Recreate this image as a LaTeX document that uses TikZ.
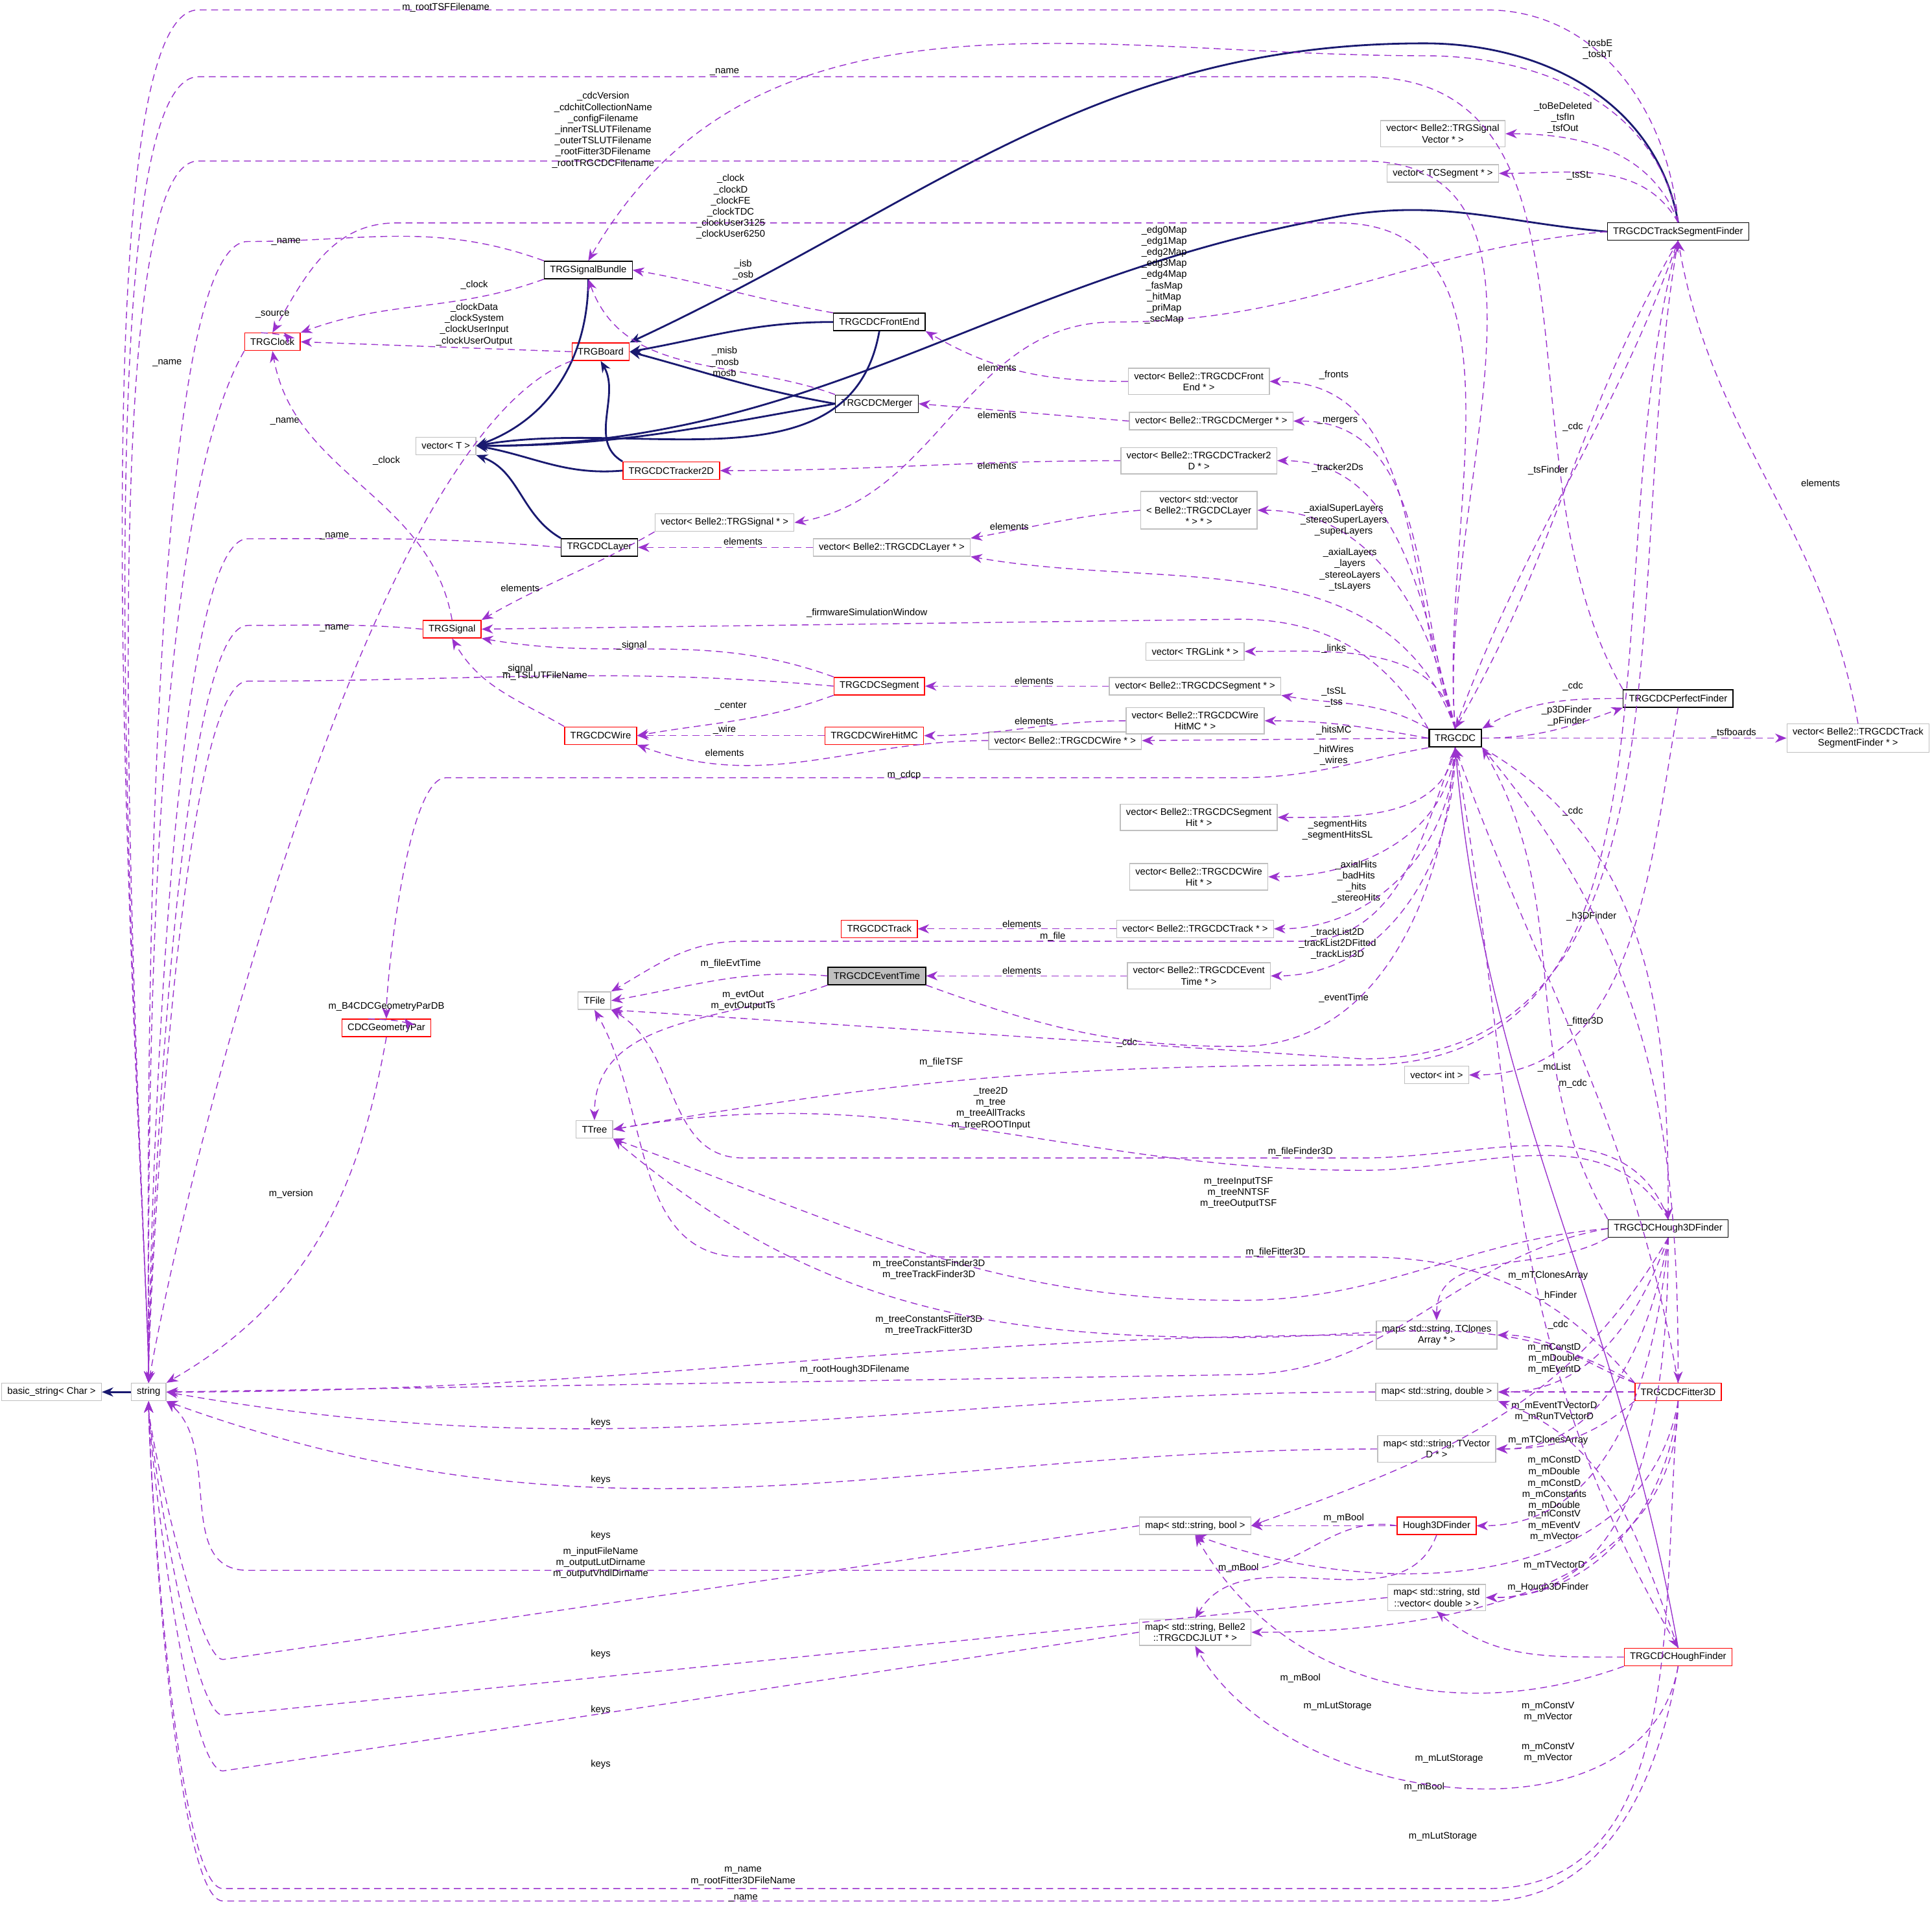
\documentclass[tikz,border=0pt]{standalone}
\usepackage{fontspec}
\setmainfont{Liberation Sans}
\usetikzlibrary{arrows.meta}
\definecolor{dep}{HTML}{9A32CD}
\definecolor{inhc}{HTML}{191970}
\newcommand\Lb[2]{\node[lab] at #1 {#2};}
\begin{document}
\begin{tikzpicture}[x=0.0191cm,y=-0.0191cm,
 every node/.style={font=\fontsize{4.2}{4.9}\selectfont},
 bx/.style={draw=black!25,fill=white,inner xsep=2.5pt,inner ysep=1.8pt,minimum height=0.27cm,align=center},
 rb/.style={draw=red,fill=white,inner xsep=2.5pt,inner ysep=1.8pt,minimum height=0.27cm},
 kb/.style={draw=black,fill=white,inner xsep=2.5pt,inner ysep=1.8pt,minimum height=0.27cm},
 lab/.style={align=center,inner sep=0pt},
 ts/.style={out=180,in=90,looseness=0.25},
 tsb/.style={out=180,in=-90,looseness=0.25},
 dep/.style={draw=dep,dashed,dash pattern=on 3pt off 2pt,-{Stealth[length=5pt,width=4pt]}},
 inh/.style={draw=inhc,thick,-{Stealth[length=5pt,width=4pt]}}]
\useasboundingbox (0,0) rectangle (1560,1539);
% nodes
\node[bx,anchor=west] (bs) at (1,1124) {basic\_string< Char >};
\node[bx] (str) at (120,1124) {string};
\node[rb] (clk) at (220,276) {TRGClock};
\node[kb] (sb) at (475,218) {TRGSignalBundle};
\node[rb] (brd) at (485,284) {TRGBoard};
\node[bx] (vt) at (360,360) {vector< T >};
\node[kb] (fe) at (710,260) {TRGCDCFrontEnd};
\node[kb] (mg) at (708,326) {TRGCDCMerger};
\node[rb] (t2d) at (542,380) {TRGCDCTracker2D};
\node[kb] (lay) at (484,442) {TRGCDCLayer};
\node[bx] (vsig) at (585,422) {vector< Belle2::TRGSignal * >};
\node[bx] (vlay) at (720,442) {vector< Belle2::TRGCDCLayer * >};
\node[rb] (sig) at (365,508) {TRGSignal};
\node[rb] (seg) at (710,554) {TRGCDCSegment};
\node[rb] (wire) at (485,594) {TRGCDCWire};
\node[rb] (whmc) at (706,594) {TRGCDCWireHitMC};
\node[bx] (vwire) at (860,598) {vector< Belle2::TRGCDCWire * >};
\node[bx] (vfe) at (968,308) {vector< Belle2::TRGCDCFront\\End * >};
\node[bx] (vmg) at (978,340) {vector< Belle2::TRGCDCMerger * >};
\node[bx] (vt2d) at (968,372) {vector< Belle2::TRGCDCTracker2\\D * >};
\node[bx] (vvl) at (968,412) {vector< std::vector\\< Belle2::TRGCDCLayer\\ * > * >};
\node[bx] (vlink) at (965,526) {vector< TRGLink * >};
\node[bx] (vseg) at (965,554) {vector< Belle2::TRGCDCSegment * >};
\node[bx] (vwhmc) at (965,582) {vector< Belle2::TRGCDCWire\\HitMC * >};
\node[kb,thick] (cdc) at (1175,596) {TRGCDC};
\node[bx] (vsv) at (1165,108) {vector< Belle2::TRGSignal\\Vector * >};
\node[bx] (vtcs) at (1165,140) {vector< TCSegment * >};
\node[kb] (tsf) at (1355,187) {TRGCDCTrackSegmentFinder};
\node[kb] (pf) at (1355,564) {TRGCDCPerfectFinder};
\node[bx,anchor=east] (vtsf) at (1558,596) {vector< Belle2::TRGCDCTrack\\SegmentFinder * >};
\node[bx] (vsh) at (968,660) {vector< Belle2::TRGCDCSegment\\Hit * >};
\node[bx] (vwh) at (968,708) {vector< Belle2::TRGCDCWire\\Hit * >};
\node[rb] (trk) at (710,750) {TRGCDCTrack};
\node[bx] (vtrk) at (965,750) {vector< Belle2::TRGCDCTrack * >};
\node[kb,fill=black!25] (et) at (708,788) {TRGCDCEventTime};
\node[bx] (vet) at (968,788) {vector< Belle2::TRGCDCEvent\\Time * >};
\node[bx] (tfile) at (480,808) {TFile};
\node[rb] (geo) at (312,830) {CDCGeometryPar};
\node[bx] (vint) at (1160,868) {vector< int >};
\node[bx] (ttree) at (480,912) {TTree};
\node[kb] (h3d) at (1347,992) {TRGCDCHough3DFinder};
\node[bx] (mtc) at (1160,1078) {map< std::string, TClones\\Array * >};
\node[bx] (mdbl) at (1160,1124) {map< std::string, double >};
\node[rb] (fit) at (1355,1124) {TRGCDCFitter3D};
\node[bx] (mtv) at (1160,1170) {map< std::string, TVector\\D * >};
\node[rb] (h3f) at (1160,1232) {Hough3DFinder};
\node[bx] (mbool) at (965,1232) {map< std::string, bool >};
\node[bx] (mvec) at (1160,1290) {map< std::string, std\\::vector< double > >};
\node[bx] (mlut) at (965,1318) {map< std::string, Belle2\\::TRGCDCJLUT * >};
\node[rb] (hf) at (1355,1338) {TRGCDCHoughFinder};
% inheritance
\draw[inh] (str) -- (bs);
\draw[inh] (sb.south) to[out=-90,in=20] (vt.east);
\draw[inh] (fe.south) to[out=-100,in=10] (vt.east);
\draw[inh] (fe.west) to[out=180,in=10] (brd.east);
\draw[inh] (mg.west) to[out=170,in=-15] (brd.east);
\draw[inh] (mg.west) to[out=190,in=0] (vt.east);
\draw[inh] (t2d.north west) to[out=150,in=-60] (brd.south);
\draw[inh] (t2d.west) to[out=185,in=-10] (vt.east);
\draw[inh] (lay.north west) to[out=150,in=-20] (vt.south east);
\draw[inh] (tsf.north) to[out=100,in=0] (1150,35) to[out=180,in=25] (brd.north east);
\draw[inh] (tsf.west) to[out=175,in=10] (1080,175) to[out=190,in=0] (vt.east);
% dependencies
\draw[dep] (tsf.north) to[out=95,in=0] (1200,8) -- (160,8) to[ts] (str.north); \Lb{(360,6)}{m\_rootTSFFilename}
\draw[dep] (tsf.north) to[out=100,in=0] (1150,45) to[out=180,in=60] (sb.north); \Lb{(1290,40)}{\_tosbE\\\_tosbT}
\draw[dep] (pf.north west) to[out=120,in=0] (1100,62) -- (160,62) to[ts] (str.north); \Lb{(585,58)}{\_name}
\draw[dep] (cdc.north) to[out=95,in=0] (1100,130) -- (160,130) to[ts] (str.north); \Lb{(487,105)}{\_cdcVersion\\\_cdchitCollectionName\\\_configFilename\\\_innerTSLUTFilename\\\_outerTSLUTFilename\\\_rootFitter3DFilename\\\_rootTRGCDCFilename}
\draw[dep] (cdc.north) to[out=95,in=0] (1080,180) -- (320,180) to[out=180,in=60] (clk.north); \Lb{(590,167)}{\_clock\\\_clockD\\\_clockFE\\\_clockTDC\\\_clockUser3125\\\_clockUser6250}
\draw[dep] (sb.north west) to[out=160,in=0] (200,195) to[ts] (str.north); \Lb{(231,195)}{\_name}
\draw[dep] (sb.south west) to[out=200,in=20] (clk.north east); \Lb{(383,230)}{\_clock}
\draw[dep] (brd.west) -- (clk.east); \Lb{(383,262)}{\_clockData\\\_clockSystem\\\_clockUserInput\\\_clockUserOutput}
\draw[dep] (brd.south west) to[out=200,in=80,looseness=0.5] (str.north); \Lb{(230,340)}{\_name}
\draw[dep] ([xshift=-5pt]clk.north) .. controls +(-0.35,0.4) and +(0.35,0.4) .. ([xshift=5pt]clk.north); \Lb{(220,254)}{\_source}
\draw[dep] (clk.south west) to[out=240,in=90,looseness=0.5] (str.north); \Lb{(135,293)}{\_name}
\draw[dep] (fe.north west) to[out=170,in=-10] (sb.east); \Lb{(600,218)}{\_isb\\\_osb}
\draw[dep] (mg.north west) to[out=160,in=-70] (sb.south); \Lb{(585,292)}{\_misb\\\_mosb\\mosb}
\draw[dep] (vfe.west) to[out=180,in=-30] (fe.south east); \Lb{(805,297)}{elements}
\draw[dep] (vmg.west) -- (mg.east); \Lb{(805,335)}{elements}
\draw[dep] (vt2d.west) to[out=180,in=0] (t2d.east); \Lb{(805,376)}{elements}
\draw[dep] (vvl.west) to[out=185,in=10] (vlay.north east); \Lb{(815,425)}{elements}
\draw[dep] (vlay.west) -- (lay.east); \Lb{(600,437)}{elements}
\draw[dep] (lay.west) to[out=175,in=0] (200,435) to[ts] (str.north); \Lb{(270,433)}{\_name}
\draw[dep] (tsf.west) to[out=185,in=0] (900,260) to[out=180,in=10] (vsig.east); \Lb{(940,222)}{\_edg0Map\\\_edg1Map\\\_edg2Map\\\_edg3Map\\\_edg4Map\\\_fasMap\\\_hitMap\\\_priMap\\\_secMap}
\draw[dep] (vsig.south west) to[out=210,in=30] (sig.north east); \Lb{(420,475)}{elements}
\draw[dep] (sig.north) to[out=100,in=-80] (clk.south); \Lb{(312,372)}{\_clock}
\draw[dep] (sig.west) to[out=175,in=0] (200,505) to[ts] (str.north); \Lb{(270,507)}{\_name}
\draw[dep] (cdc.north west) to[out=120,in=0] (1000,500) -- (sig.east); \Lb{(700,495)}{\_firmwareSimulationWindow}
\draw[dep] (seg.north west) to[out=160,in=-10] (sig.south east); \Lb{(510,521)}{\_signal}
\draw[dep] (seg.west) to[out=175,in=0] (200,550) to[ts] (str.north); \Lb{(440,546)}{m\_TSLUTFileName}
\draw[dep] (seg.south west) to[out=200,in=10] (wire.east); \Lb{(590,570)}{\_center}
\draw[dep] (wire.north west) to[out=150,in=-60] (sig.south); \Lb{(418,540)}{\_signal}
\draw[dep] (whmc.west) -- (wire.east); \Lb{(585,589)}{\_wire}
\draw[dep] (vwire.west) to[out=180,in=-20] (wire.south east); \Lb{(585,608)}{elements}
\draw[dep] (vseg.west) -- (seg.east); \Lb{(835,550)}{elements}
\draw[dep] (vwhmc.west) to[out=180,in=0] (whmc.east); \Lb{(835,582)}{elements}
\draw[dep] (cdc.north) to[out=110,in=0] (vfe.east); \Lb{(1077,303)}{\_fronts}
\draw[dep] (cdc.north) to[out=108,in=0] (vmg.east); \Lb{(1080,340)}{\_mergers}
\draw[dep] (cdc.north) to[out=105,in=0] (vt2d.east); \Lb{(1080,378)}{\_tracker2Ds}
\draw[dep] (cdc.north) to[out=102,in=0] (vvl.east); \Lb{(1085,420)}{\_axialSuperLayers\\\_stereoSuperLayers\\\_superLayers}
\draw[dep] (cdc.north) to[out=110,in=-10] (vlay.south east); \Lb{(1090,460)}{\_axialLayers\\\_layers\\\_stereoLayers\\\_tsLayers}
\draw[dep] (cdc.north) to[out=100,in=0] (vlink.east); \Lb{(1077,524)}{\_links}
\draw[dep] (cdc.north west) to[out=150,in=-10] (vseg.south east); \Lb{(1077,563)}{\_tsSL\\\_tss}
\draw[dep] (cdc.west) to[out=170,in=0] (vwhmc.east); \Lb{(1077,590)}{\_hitsMC}
\draw[dep] (cdc.west) -- (vwire.east); \Lb{(1077,610)}{\_hitWires\\\_wires}
\draw[dep] (cdc.south west) to[out=190,in=0] (1000,628) -- (360,628) to[out=180,in=90,looseness=0.4] (geo.north); \Lb{(730,626)}{m\_cdcp}
\draw[dep] ([xshift=-8pt]geo.north) .. controls +(-0.3,0.4) and +(0.3,0.4) .. ([xshift=8pt]geo.north); \Lb{(312,813)}{m\_B4CDCGeometryParDB}
\draw[dep] (geo.south) to[out=-100,in=30] (str.north east); \Lb{(235,964)}{m\_version}
\draw[dep] (cdc.south) to[out=-100,in=0] (vsh.east); \Lb{(1080,670)}{\_segmentHits\\\_segmentHitsSL}
\draw[dep] (cdc.south) to[out=-95,in=0] (vwh.east); \Lb{(1095,712)}{\_axialHits\\\_badHits\\\_hits\\\_stereoHits}
\draw[dep] (cdc.south) to[out=-110,in=0] (1050,760) -- (600,760) to[out=180,in=30] (tfile.north east); \Lb{(850,756)}{m\_file}
\draw[dep] (cdc.south) to[out=-92,in=0] (vtrk.east); \Lb{(1080,762)}{\_trackList2D\\\_trackList2DFitted\\\_trackList3D}
\draw[dep] (vtrk.west) -- (trk.east); \Lb{(825,746)}{elements}
\draw[dep] (cdc.south) to[out=-90,in=0] (vet.east); \Lb{(1085,806)}{\_eventTime}
\draw[dep] (vet.west) -- (et.east); \Lb{(825,784)}{elements}
\draw[dep] (et.west) to[out=175,in=10] (tfile.east); \Lb{(590,778)}{m\_fileEvtTime}
\draw[dep] (et.south west) to[out=200,in=90] (ttree.north); \Lb{(600,808)}{m\_evtOut\\m\_evtOutputTs}
\draw[dep] (et.south east) to[out=-20,in=180] (1000,845) to[out=0,in=-95] (cdc.south); \Lb{(910,842)}{\_cdc}
\draw[dep] (tsf.south) to[out=-100,in=0] (1100,855) -- (tfile.south east); \Lb{(760,858)}{m\_fileTSF}
\draw[dep] (tsf.south) to[out=-105,in=0] (1100,860) to[out=180,in=10] (ttree.east); \Lb{(800,895)}{\_tree2D\\m\_tree\\m\_treeAllTracks\\m\_treeROOTInput}
\draw[dep] (tsf.south) to[out=-120,in=60] (cdc.north); \Lb{(1270,345)}{\_cdc}
\draw[dep] (cdc.north) to[out=70,in=-110] (tsf.south); \Lb{(1250,380)}{\_tsFinder}
\draw[dep] (tsf.north) to[out=110,in=0] (vsv.east); \Lb{(1262,95)}{\_toBeDeleted\\\_tsfIn\\\_tsfOut}
\draw[dep] (tsf.north) to[out=120,in=0] (vtcs.east); \Lb{(1275,142)}{\_tsSL}
\draw[dep] (vtsf.north) to[out=100,in=-80] (tsf.south); \Lb{(1470,390)}{elements}
\draw[dep] (cdc.east) -- (vtsf.west); \Lb{(1400,592)}{\_tsfboards}
\draw[dep] (pf.west) to[out=180,in=30] (cdc.north east); \Lb{(1270,554)}{\_cdc}
\draw[dep] (cdc.east) to[out=0,in=200] (pf.south west); \Lb{(1265,578)}{\_p3DFinder\\\_pFinder}
\draw[dep] (pf.south) to[out=-100,in=0] (vint.east); \Lb{(1255,862)}{\_mcList}
\draw[dep] (cdc.south east) to[out=-30,in=90] (h3d.north); \Lb{(1285,740)}{\_h3DFinder}
\draw[dep] (h3d.north west) to[out=120,in=-60] (cdc.south east); \Lb{(1270,655)}{\_cdc}
\draw[dep] (cdc.south east) to[out=-50,in=90] (fit.north); \Lb{(1280,825)}{\_fitter3D}
\draw[dep] (fit.north) to[out=100,in=-70] (cdc.south); \Lb{(1270,875)}{m\_cdc}
\draw[dep] (cdc.south) to[out=-80,in=120] (hf.north); \Lb{(1258,1046)}{\_hFinder}
\draw[dep,solid] (hf.north) to[out=100,in=-85] (cdc.south); \Lb{(1258,1070)}{\_cdc}
\draw[dep] (h3d.north) to[out=110,in=0] (1100,935) -- (600,935) to[out=180,in=-30] (tfile.south east); \Lb{(1050,930)}{m\_fileFinder3D}
\draw[dep] (h3d.north) to[out=120,in=0] (1100,945) to[out=180,in=10] (ttree.east); \Lb{(1000,963)}{m\_treeInputTSF\\m\_treeNNTSF\\m\_treeOutputTSF}
\draw[dep] (fit.north west) to[out=130,in=0] (1100,1015) -- (600,1015) to[out=180,in=-60] (tfile.south); \Lb{(1030,1011)}{m\_fileFitter3D}
\draw[dep] (h3d.west) to[out=185,in=0] (1000,1050) to[out=180,in=-20] (ttree.south east); \Lb{(750,1025)}{m\_treeConstantsFinder3D\\m\_treeTrackFinder3D}
\draw[dep] (fit.north west) to[out=150,in=0] (1000,1080) to[out=180,in=-40] (ttree.south east); \Lb{(750,1070)}{m\_treeConstantsFitter3D\\m\_treeTrackFitter3D}
\draw[dep] (h3d.west) to[out=190,in=0] (1000,1110) -- (str.east); \Lb{(690,1106)}{m\_rootHough3DFilename}
\draw[dep] (h3d.south west) to[out=210,in=90] (mtc.north); \Lb{(1250,1030)}{m\_mTClonesArray}
\draw[dep] (h3d.south) to[out=-110,in=0] (mdbl.east); \Lb{(1255,1097)}{m\_mConstD\\m\_mDouble\\m\_mEventD}
\draw[dep] (h3d.south) to[out=-100,in=0] (mtv.east); \Lb{(1255,1140)}{m\_mEventTVectorD\\m\_mRunTVectorD}
\draw[dep] (h3d.south) to[out=-120,in=20] (mbool.east); \Lb{(1000,1266)}{m\_mBool}
\draw[dep] (h3d.south) to[out=-90,in=0] (mvec.east); \Lb{(1255,1232)}{m\_mConstV\\m\_mEventV\\m\_mVector}
\draw[dep] (h3d.south) to[out=-95,in=0] (h3f.east); \Lb{(1250,1282)}{m\_Hough3DFinder}
\draw[dep] (fit.north west) to[out=160,in=0] (mtc.east); \Lb{(1250,1163)}{m\_mTClonesArray}
\draw[dep] (fit.west) -- (mdbl.east); \Lb{(1255,1184)}{m\_mConstD\\m\_mDouble}
\draw[dep] (hf.north) to[out=110,in=-20] (mdbl.south east); \Lb{(1255,1207)}{m\_mConstD\\m\_mConstants\\m\_mDouble}
\draw[dep] (fit.south west) to[out=220,in=0] (mtv.east); \Lb{(1255,1264)}{m\_mTVectorD}
\draw[dep] (h3f.west) -- (mbool.east); \Lb{(1085,1226)}{m\_mBool}
\draw[dep] (fit.south) to[out=-100,in=-20] (mbool.south); \Lb{(1050,1355)}{m\_mBool}
\draw[dep] (hf.south west) to[out=200,in=-60] (mbool.south); \Lb{(1150,1443)}{m\_mBool}
\draw[dep] (h3f.south) to[out=-110,in=60] (mlut.north); \Lb{(1080,1378)}{m\_mLutStorage}
\draw[dep] (fit.south) to[out=-90,in=0] (mlut.east); \Lb{(1170,1420)}{m\_mLutStorage}
\draw[dep] (hf.south) to[out=-100,in=-60] (mlut.south); \Lb{(1165,1483)}{m\_mLutStorage}
\draw[dep] (fit.south) to[out=-95,in=0] (mvec.east); \Lb{(1250,1382)}{m\_mConstV\\m\_mVector}
\draw[dep] (hf.west) to[out=180,in=-40] (mvec.south); \Lb{(1250,1415)}{m\_mConstV\\m\_mVector}
\draw[dep] (h3f.west) to[out=170,in=0] (1000,1268) -- (200,1268) to[out=180,in=-40] (str.south east); \Lb{(485,1262)}{m\_inputFileName\\m\_outputLutDirname\\m\_outputVhdlDirname}
\draw[dep] (mtc.west) to[out=180,in=0] (str.east); \Lb{(485,1149)}{keys}
\draw[dep] (mdbl.west) to[out=180,in=-10] (str.east); \Lb{(485,1195)}{keys}
\draw[dep] (mtv.west) to[out=180,in=-20] (str.south east); \Lb{(485,1240)}{keys}
\draw[dep] (mbool.west) -- (180,1340) to[tsb] (str.south); \Lb{(485,1336)}{keys}
\draw[dep] (mvec.west) -- (180,1385) to[tsb] (str.south); \Lb{(485,1381)}{keys}
\draw[dep] (mlut.west) -- (180,1430) to[tsb] (str.south); \Lb{(485,1425)}{keys}
\draw[dep] (fit.south) to[out=-95,in=0] (1200,1525) -- (180,1525) to[tsb] (str.south); \Lb{(600,1515)}{m\_name\\m\_rootFitter3DFileName}
\draw[dep] (hf.south) to[out=-100,in=0] (1200,1535) -- (180,1535) to[tsb] (str.south); \Lb{(600,1533)}{\_name}
\end{tikzpicture}
\end{document}
